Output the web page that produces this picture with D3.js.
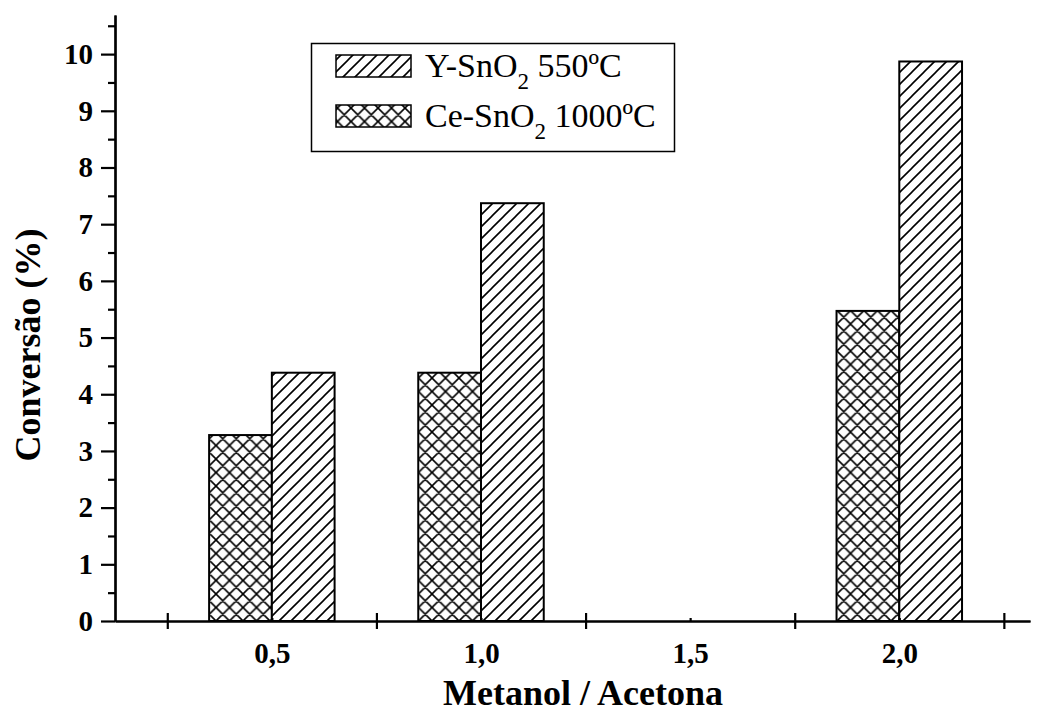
<!DOCTYPE html>
<html>
<head>
<meta charset="utf-8">
<script src="https://cdn.jsdelivr.net/npm/d3@7"></script>
<style>
  body { margin: 0; background: #fff; }
  text { font-family: "Liberation Serif", "Times New Roman", serif; fill: #000; }
</style>
</head>
<body>
<div id="chart"></div>
<script>
// data
var categories = ["0,5", "1,0", "1,5", "2,0"];
var ratios     = [0.5, 1.0, 1.5, 2.0];
var ceValues   = [3.28, 4.38, null, 5.47];   // Ce-SnO2 1000ºC
var ysValues   = [4.38, 7.37, null, 9.87];   // Y-SnO2 550ºC
var yTicks     = [0, 1, 2, 3, 4, 5, 6, 7, 8, 9, 10];

var W = 1045, H = 715;
var x = d3.scaleLinear().domain([0.125, 2.3125]).range([115, 1030]);
var y = d3.scaleLinear().domain([0, 10.69]).range([621, 15]);
var barW = 0.15;

var svg = d3.select("#chart").append("svg").attr("width", W).attr("height", H);

var defs = svg.append("defs");
var diag = defs.append("pattern").attr("id", "diag")
  .attr("patternUnits", "userSpaceOnUse").attr("width", 12).attr("height", 12);
diag.append("rect").attr("width", 12).attr("height", 12).attr("fill", "#fff");
diag.append("path").attr("d", "M-3,3 L3,-3 M0,12 L12,0 M9,15 L15,9")
  .attr("stroke", "#000").attr("stroke-width", 1.6);

var cross = defs.append("pattern").attr("id", "cross")
  .attr("patternUnits", "userSpaceOnUse").attr("width", 13.5).attr("height", 13.5);
cross.append("rect").attr("width", 13.5).attr("height", 13.5).attr("fill", "#fff");
cross.append("path").attr("d", "M-3,3 L3,-3 M0,13.5 L13.5,0 M10.5,16.5 L16.5,10.5 M-3,10.5 L3,16.5 M0,0 L13.5,13.5 M10.5,-3 L16.5,3")
  .attr("stroke", "#000").attr("stroke-width", 1.6);

// bars
var idx = d3.range(ratios.length);
svg.append("g").selectAll("rect.ce")
  .data(idx.filter(function(i) { return ceValues[i] != null; }))
  .enter().append("rect")
  .attr("x", function(i) { return x(ratios[i] - barW); })
  .attr("width", function() { return x(barW) - x(0); })
  .attr("y", function(i) { return y(ceValues[i]); })
  .attr("height", function(i) { return y(0) - y(ceValues[i]); })
  .attr("fill", "url(#cross)").attr("stroke", "#000").attr("stroke-width", 2);

svg.append("g").selectAll("rect.ys")
  .data(idx.filter(function(i) { return ysValues[i] != null; }))
  .enter().append("rect")
  .attr("x", function(i) { return x(ratios[i]); })
  .attr("width", function() { return x(barW) - x(0); })
  .attr("y", function(i) { return y(ysValues[i]); })
  .attr("height", function(i) { return y(0) - y(ysValues[i]); })
  .attr("fill", "url(#diag)").attr("stroke", "#000").attr("stroke-width", 2);

// y axis
var axisY = d3.axisLeft(y).tickValues(yTicks).tickSizeInner(14).tickSizeOuter(0).tickPadding(8);
var gy = svg.append("g").attr("transform", "translate(" + x(0.125) + ",0)").call(axisY);
var minorY = d3.axisLeft(y).tickValues(d3.range(0.5, 10.6, 1)).tickSizeInner(7).tickSizeOuter(0).tickFormat("");
svg.append("g").attr("transform", "translate(" + x(0.125) + ",0)").call(minorY);

// x axis
var bounds = [0.25, 0.75, 1.25, 1.75, 2.25];
var axisX = d3.axisBottom(x).tickValues(bounds).tickSizeInner(8).tickSizeOuter(0).tickFormat("");
var gx = svg.append("g").attr("transform", "translate(0," + y(0) + ")").call(axisX);
gx.selectAll(".tick line").attr("y1", -8);
var minorX = d3.axisTop(x).tickValues(ratios).tickSizeInner(3).tickSizeOuter(0).tickFormat("");
svg.append("g").attr("transform", "translate(0," + y(0) + ")").call(minorX);
var labX = d3.axisBottom(x).tickValues(ratios).tickSize(0).tickPadding(21)
  .tickFormat(function(d, i) { return categories[i]; });
var gl = svg.append("g").attr("transform", "translate(0," + y(0) + ")").call(labX);
gl.select(".domain").remove();

svg.selectAll(".domain, .tick line").attr("stroke", "#000").attr("stroke-width", 2.2);
svg.selectAll(".tick text")
  .style("font-family", "'Liberation Serif', serif").style("font-weight", "bold")
  .style("font-size", "29px").attr("fill", "#000");

// axis titles
svg.append("text")
  .attr("transform", "translate(40,345) rotate(-90)")
  .attr("text-anchor", "middle")
  .style("font-size", "36px").style("font-weight", "bold")
  .text("Conversão (%)");
svg.append("text")
  .attr("x", 583).attr("y", 705).attr("text-anchor", "middle")
  .style("font-size", "36px").style("font-weight", "bold")
  .text("Metanol / Acetona");

// legend
var lg = svg.append("g");
lg.append("rect").attr("x", 311.5).attr("y", 43.5).attr("width", 363).attr("height", 108)
  .attr("fill", "#fff").attr("stroke", "#000").attr("stroke-width", 1.5);
var items = [
  { fill: "url(#diag)", name: "Y-SnO", rest: " 550ºC", top: 55 },
  { fill: "url(#cross)", name: "Ce-SnO", rest: " 1000ºC", top: 105 }
];
items.forEach(function(it) {
  lg.append("rect").attr("x", 336).attr("y", it.top).attr("width", 75).attr("height", 22)
    .attr("fill", it.fill).attr("stroke", "#000").attr("stroke-width", 1.5);
  var t = lg.append("text").attr("x", 425).attr("y", it.top + 22).style("font-size", "34px");
  t.append("tspan").text(it.name);
  t.append("tspan").style("font-size", "23px").attr("dy", 12).text("2");
  t.append("tspan").attr("dy", -12).text(it.rest);
});
</script>
</body>
</html>
